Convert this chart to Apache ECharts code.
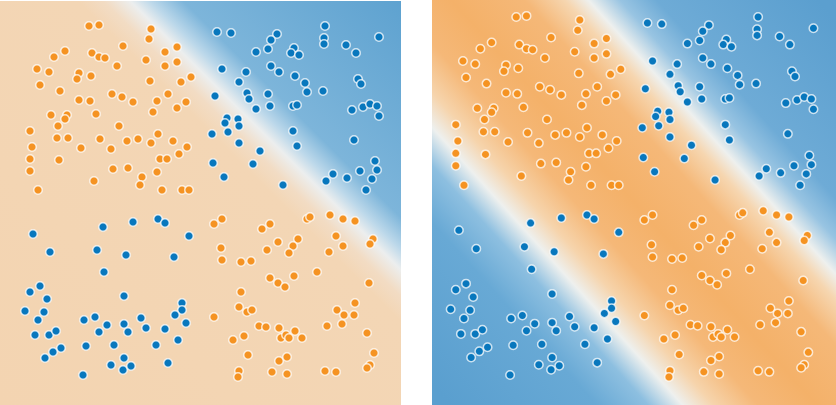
<!DOCTYPE html>
<html>
<head>
<meta charset="utf-8">
<script src="https://cdn.jsdelivr.net/npm/echarts@6/dist/echarts.min.js"></script>
<style>
  html, body { margin: 0; padding: 0; background: #fff; }
  #chart { width: 836px; height: 405px; }
</style>
</head>
<body>
<div id="chart"></div>
<script>
// point positions (x right, y down)
const orangePoints = [
  [89,26],[99,25],[151,29],[149,39],[123,46],[177,47],[65,51],[54,57],[92,53],[99,57],[105,58],
  [165,52],[146,60],[177,62],[117,66],[165,66],[37,69],[49,72],[79,73],[77,79],[91,76],[150,81],
  [181,82],[191,77],[40,85],[60,91],[112,94],[122,97],[133,102],[168,94],[157,101],[186,102],
  [177,108],[79,100],[90,101],[153,112],[96,114],[51,115],[67,115],[65,119],[58,126],[119,126],
  [30,131],[158,134],[57,138],[68,138],[100,139],[127,141],[138,139],[151,143],[173,141],[187,147],
  [32,147],[81,148],[111,149],[30,159],[59,160],[160,159],[167,159],[179,154],[30,171],[113,169],
  [128,168],[157,172],[142,177],[140,185],[94,181],[38,190],[162,190],[182,190],[189,190],
  [214,224],[222,219],[262,229],[270,224],[307,219],[310,217],[330,215],[343,219],[355,221],
  [336,236],[343,246],[329,252],[373,239],[370,244],[221,248],[222,260],[241,262],[251,261],
  [267,250],[278,242],[298,239],[293,246],[289,253],[317,272],[270,278],[278,283],[285,287],
  [294,276],[369,283],[241,292],[239,307],[247,312],[252,310],[214,317],[337,310],[344,315],
  [355,303],[354,315],[327,326],[342,324],[259,326],[266,327],[279,328],[281,338],[286,335],
  [289,338],[295,331],[302,338],[233,340],[244,336],[367,333],[248,355],[279,361],[287,357],
  [374,353],[370,365],[367,368],[239,371],[238,377],[272,372],[287,374],[325,371],[336,372]
];
const bluePoints = [
  [217,32],[231,33],[277,34],[271,40],[268,49],[256,52],[294,48],[291,53],[299,55],[325,26],
  [324,38],[324,44],[346,45],[356,53],[379,37],[222,69],[246,72],[271,66],[279,72],[295,76],
  [239,82],[305,83],[307,92],[323,91],[358,79],[361,84],[247,93],[249,99],[268,94],[270,106],
  [256,109],[293,106],[297,105],[215,96],[352,110],[363,107],[370,104],[377,106],[379,116],
  [227,118],[225,123],[238,119],[239,126],[228,132],[212,134],[293,131],[239,143],[297,146],
  [354,140],[260,151],[213,163],[253,164],[224,177],[283,185],[375,161],[377,170],[360,171],
  [333,174],[326,181],[347,178],[372,179],[366,190],
  [33,234],[50,252],[103,227],[133,222],[158,219],[165,223],[189,236],[97,250],[126,255],
  [174,257],[104,272],[40,286],[30,292],[47,299],[124,296],[25,311],[44,312],[38,320],
  [182,303],[182,310],[175,315],[186,323],[84,320],[95,317],[107,325],[124,324],[128,332],
  [141,318],[146,328],[165,329],[99,332],[35,335],[49,335],[56,331],[61,348],[53,352],
  [45,358],[86,346],[114,345],[156,345],[178,340],[124,358],[111,365],[123,370],[131,366],
  [168,363],[83,375]
];

const ORANGE = '#f59322';
const BLUE = '#0877bd';

// linear model: one boundary
const linearBg = new echarts.graphic.LinearGradient(0, 1, 1, 0, [
  { offset: 0, color: '#f3d4b1' },
  { offset: 0.6, color: '#f3d6b5' },
  { offset: 0.632, color: '#f2dcc4' },
  { offset: 0.665, color: '#eceeee' },
  { offset: 0.69, color: '#bcd8ea' },
  { offset: 0.73, color: '#7db5da' },
  { offset: 1, color: '#5ea2d0' }
]);

// hidden-layer model: orange band between two boundaries
const bandBg = new echarts.graphic.LinearGradient(0, 0.95, 1, 0.05, [
  { offset: 0, color: '#5a9fcf' },
  { offset: 0.2, color: '#68a9d5' },
  { offset: 0.27, color: '#8dbfe0' },
  { offset: 0.317, color: '#eef0ee' },
  { offset: 0.36, color: '#f6d4ac' },
  { offset: 0.42, color: '#f5b878' },
  { offset: 0.5, color: '#f4b169' },
  { offset: 0.6, color: '#f5b878' },
  { offset: 0.655, color: '#f6d6b0' },
  { offset: 0.687, color: '#eef0ee' },
  { offset: 0.73, color: '#98c4e2' },
  { offset: 0.78, color: '#6eabd6' },
  { offset: 1, color: '#5b9fcf' }
]);

function dots(data, color, idx) {
  return {
    type: 'scatter',
    xAxisIndex: idx,
    yAxisIndex: idx,
    data: data,
    symbolSize: 8.5,
    clip: true,
    silent: true,
    itemStyle: {
      color: color,
      opacity: 1,
      borderColor: 'rgba(255,255,255,0.75)',
      borderWidth: 1.5
    }
  };
}

const chart = echarts.init(document.getElementById('chart'));

chart.setOption({
  animation: false,
  grid: [
    { left: 0, top: 1, width: 401, height: 404, show: true, borderWidth: 0, backgroundColor: linearBg },
    { left: 432, top: 0, width: 404, height: 405, show: true, borderWidth: 0, backgroundColor: bandBg }
  ],
  xAxis: [
    { gridIndex: 0, type: 'value', min: 0, max: 401, show: false },
    // right panel is the same data shown a little larger, cropped at the left
    { gridIndex: 1, type: 'value', min: 6.8, max: 401, show: false }
  ],
  yAxis: [
    { gridIndex: 0, type: 'value', min: 1, max: 405, inverse: true, show: false },
    { gridIndex: 1, type: 'value', min: 9.5, max: 404.3, inverse: true, show: false }
  ],
  series: [
    dots(orangePoints, ORANGE, 0),
    dots(bluePoints, BLUE, 0),
    dots(orangePoints, ORANGE, 1),
    dots(bluePoints, BLUE, 1)
  ]
});
</script>
</body>
</html>
